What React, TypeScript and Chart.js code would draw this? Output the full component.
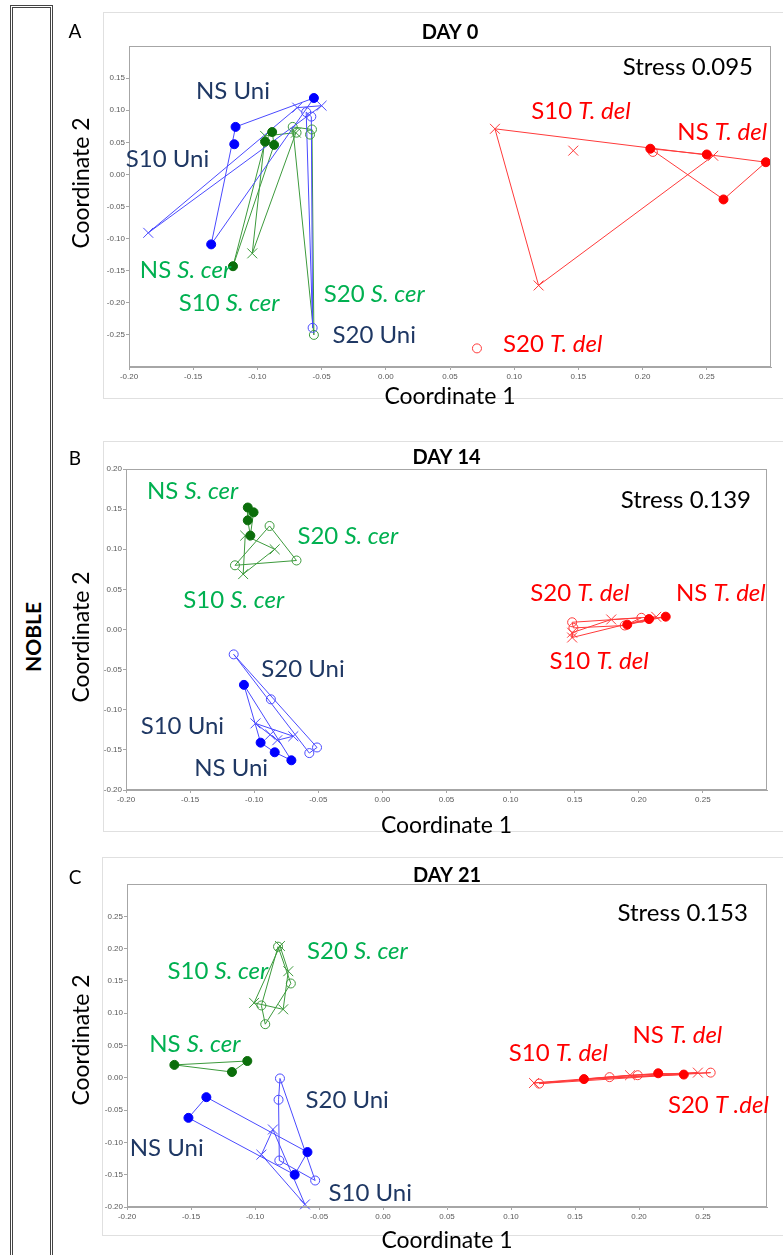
import React, { useEffect, useRef } from "react";
import { Chart, registerables } from "chart.js";
Chart.register(...registerables);

type Pt = [number, number];

// ---------- DAY 0 ----------
const d0_NS_Uni: Pt[] = [[-0.056, 0.119], [-0.117, 0.074], [-0.118, 0.047], [-0.136, -0.109]];
const d0_S10_Uni: Pt[] = [[-0.185, -0.091], [-0.069, 0.104], [-0.050, 0.107]];
const d0_S20_Uni: Pt[] = [[-0.058, 0.090], [-0.062, 0.097], [-0.057, -0.239]];
const d0_NS_Scer: Pt[] = [[-0.0885, 0.066], [-0.094, 0.051], [-0.087, 0.046], [-0.119, -0.143]];
const d0_S10_Scer: Pt[] = [[-0.104, -0.123], [-0.094, 0.060], [-0.070, 0.065]];
const d0_S20_Scer: Pt[] = [[-0.0725, 0.074], [-0.0695, 0.065], [-0.0575, 0.070], [-0.059, 0.062], [-0.056, -0.250]];
const d0_NS_Tdel: Pt[] = [[0.206, 0.040], [0.250, 0.031], [0.296, 0.019], [0.263, -0.039]];
const d0_S10_Tdel: Pt[] = [[0.085, 0.071], [0.146, 0.037], [0.255, 0.029], [0.119, -0.173]];
const d0_S20_Tdel: Pt[] = [[0.208, 0.035], [0.071, -0.271]];

// ---------- DAY 14 ----------
const d14_NS_Scer: Pt[] = [[-0.105, 0.152], [-0.1005, 0.146], [-0.105, 0.136], [-0.103, 0.117]];
const d14_S10_Scer: Pt[] = [[-0.107, 0.117], [-0.084, 0.100], [-0.1086, 0.069]];
const d14_S20_Scer: Pt[] = [[-0.088, 0.129], [-0.067, 0.086], [-0.115, 0.080]];
const d14_NS_Uni: Pt[] = [[-0.108, -0.069], [-0.095, -0.141], [-0.084, -0.153], [-0.071, -0.163]];
const d14_S10_Uni: Pt[] = [[-0.099, -0.117], [-0.0875, -0.131], [-0.0695, -0.133], [-0.082, -0.138]];
const d14_S20_Uni: Pt[] = [[-0.116, -0.031], [-0.087, -0.087], [-0.051, -0.147], [-0.057, -0.154]];
const d14_NS_Tdel: Pt[] = [[0.221, 0.016], [0.208, 0.013], [0.191, 0.006]];
const d14_S10_Tdel: Pt[] = [[0.148, -0.010], [0.1785, 0.0125], [0.2136, 0.0158], [0.148, -0.004]];
const d14_S20_Tdel: Pt[] = [[0.148, 0.009], [0.202, 0.0146], [0.189, 0.005], [0.149, 0.002]];

// ---------- DAY 21 ----------
const d21_S20_Scer: Pt[] = [[-0.082, 0.203], [-0.072, 0.146], [-0.095, 0.112], [-0.092, 0.083]];
const d21_S10_Scer: Pt[] = [[-0.0805, 0.204], [-0.074, 0.165], [-0.078, 0.106], [-0.1007, 0.116]];
const d21_NS_Scer: Pt[] = [[-0.163, 0.020], [-0.118, 0.009], [-0.106, 0.026]];
const d21_S20_Uni: Pt[] = [[-0.0805, -0.001], [-0.0816, -0.034], [-0.081, -0.128], [-0.053, -0.159]];
const d21_NS_Uni: Pt[] = [[-0.138, -0.030], [-0.152, -0.062], [-0.059, -0.115], [-0.069, -0.150]];
const d21_S10_Uni: Pt[] = [[-0.086, -0.080], [-0.095, -0.119], [-0.061, -0.196]];
const d21_NS_Tdel: Pt[] = [[0.157, -0.002], [0.215, 0.007], [0.235, 0.005]];
const d21_S10_Tdel: Pt[] = [[0.118, -0.008], [0.193, 0.004], [0.246, 0.008]];
const d21_S20_Tdel: Pt[] = [[0.122, -0.009], [0.177, 0.001], [0.199, 0.004], [0.256, 0.008]];

// ---------- tick labels ----------
const xTicks = [-0.2, -0.15, -0.1, -0.05, 0, 0.05, 0.1, 0.15, 0.2, 0.25];
const yTicksA = [0.15, 0.1, 0.05, 0, -0.05, -0.1, -0.15, -0.2, -0.25];
const yTicksB = [0.2, 0.15, 0.1, 0.05, 0, -0.05, -0.1, -0.15, -0.2];
const yTicksC = [0.25, 0.2, 0.15, 0.1, 0.05, 0, -0.05, -0.1, -0.15, -0.2];

// ---------- group labels: [x, y, normal part, italic part, kind] ----------
type Lab = [number, number, string, string, string];
const labelsA: Lab[] = [
  [-0.119, 0.129, "NS Uni", "", "uni"],
  [-0.170, 0.024, "S10 Uni", "", "uni"],
  [-0.156, -0.150, "NS ", "S. cer", "scer"],
  [-0.122, -0.200, "S10 ", "S. cer", "scer"],
  [-0.009, -0.187, "S20 ", "S. cer", "scer"],
  [-0.009, -0.250, "S20 Uni", "", "uni"],
  [0.152, 0.0985, "S10 ", "T. del", "tdel"],
  [0.262, 0.065, "NS ", "T. del", "tdel"],
  [0.130, -0.265, "S20 ", "T. del", "tdel"],
];
const labelsB: Lab[] = [
  [-0.148, 0.1726, "NS ", "S. cer", "scer"],
  [-0.027, 0.1156, "S20 ", "S. cer", "scer"],
  [-0.116, 0.0366, "S10 ", "S. cer", "scer"],
  [-0.062, -0.049, "S20 Uni", "", "uni"],
  [-0.156, -0.120, "S10 Uni", "", "uni"],
  [-0.118, -0.1726, "NS Uni", "", "uni"],
  [0.154, 0.045, "S20 ", "T. del", "tdel"],
  [0.264, 0.045, "NS ", "T. del", "tdel"],
  [0.169, -0.040, "S10 ", "T. del", "tdel"],
];
const labelsC: Lab[] = [
  [-0.020, 0.196, "S20 ", "S. cer", "scer"],
  [-0.129, 0.165, "S10 ", "S. cer", "scer"],
  [-0.147, 0.052, "NS ", "S. cer", "scer"],
  [-0.028, -0.035, "S20 Uni", "", "uni"],
  [-0.169, -0.109, "NS Uni", "", "uni"],
  [-0.010, -0.178, "S10 Uni", "", "uni"],
  [0.137, 0.038, "S10 ", "T. del", "tdel"],
  [0.230, 0.066, "NS ", "T. del", "tdel"],
  [0.262, -0.043, "S20 ", "T .del", "tdel"],
];

const FONT = "Lato, 'Open Sans', sans-serif";
const LABEL_PX = 24;
const COLORS: Record<string, { line: string; fill: string; open: string; label: string; nsFill: string }> = {
  uni: { line: "#4a4aff", fill: "#0000ff", open: "#4a4aff", label: "#1f3864", nsFill: "#0000ff" },
  scer: { line: "#3c9a3c", fill: "#0b6e0b", open: "#3c9a3c", label: "#00b050", nsFill: "#0b6e0b" },
  tdel: { line: "#ff3a3a", fill: "#ff0000", open: "#ff3a3a", label: "#ff0000", nsFill: "#ff0000" },
};

type Group = { pts: Pt[]; kind: string; marker: "filled" | "open" | "cross"; hull?: boolean };

function convexHull(points: Pt[]): Pt[] {
  const p = points.slice().sort((a, b) => (a[0] - b[0]) || (a[1] - b[1]));
  if (p.length < 3) return p;
  const cross = (o: Pt, a: Pt, b: Pt) => (a[0] - o[0]) * (b[1] - o[1]) - (a[1] - o[1]) * (b[0] - o[0]);
  const lower: Pt[] = [];
  for (const q of p) {
    while (lower.length >= 2 && cross(lower[lower.length - 2], lower[lower.length - 1], q) <= 0) lower.pop();
    lower.push(q);
  }
  const upper: Pt[] = [];
  for (let i = p.length - 1; i >= 0; i--) {
    const q = p[i];
    while (upper.length >= 2 && cross(upper[upper.length - 2], upper[upper.length - 1], q) <= 0) upper.pop();
    upper.push(q);
  }
  upper.pop();
  lower.pop();
  return lower.concat(upper);
}

function buildDatasets(groups: Group[]) {
  const ds: any[] = [];
  for (const g of groups) {
    const c = COLORS[g.kind];
    if (g.hull !== false) {
      const h = convexHull(g.pts);
      const loop = h.concat([h[0]]).map(([x, y]) => ({ x, y }));
      ds.push({
        data: loop, showLine: true, borderColor: c.line, borderWidth: 1, pointRadius: 0,
        fill: false, order: 2, clip: false,
      });
    }
    const pts = g.pts.map(([x, y]) => ({ x, y }));
    if (g.marker === "filled") {
      ds.push({ data: pts, showLine: false, pointStyle: "circle", pointRadius: 4.5, pointBackgroundColor: c.nsFill, pointBorderColor: c.nsFill, pointBorderWidth: 1, order: 0, clip: false });
    } else if (g.marker === "open") {
      ds.push({ data: pts, showLine: false, pointStyle: "circle", pointRadius: 4.5, pointBackgroundColor: "rgba(0,0,0,0)", pointBorderColor: c.open, pointBorderWidth: 1, order: 1, clip: false });
    } else {
      ds.push({ data: pts, showLine: false, pointStyle: "crossRot", pointRadius: 7, pointBorderColor: c.open, pointBorderWidth: 1, order: 1, clip: false });
    }
  }
  return ds;
}

const groupsA: Group[] = [
  { pts: d0_NS_Uni, kind: "uni", marker: "filled" },
  { pts: d0_S10_Uni, kind: "uni", marker: "cross" },
  { pts: d0_S20_Uni, kind: "uni", marker: "open" },
  { pts: d0_NS_Scer, kind: "scer", marker: "filled" },
  { pts: d0_S10_Scer, kind: "scer", marker: "cross" },
  { pts: d0_S20_Scer, kind: "scer", marker: "open" },
  { pts: d0_NS_Tdel, kind: "tdel", marker: "filled" },
  { pts: d0_S10_Tdel, kind: "tdel", marker: "cross" },
  { pts: d0_S20_Tdel, kind: "tdel", marker: "open", hull: false },
];
const groupsB: Group[] = [
  { pts: d14_NS_Scer, kind: "scer", marker: "filled" },
  { pts: d14_S10_Scer, kind: "scer", marker: "cross" },
  { pts: d14_S20_Scer, kind: "scer", marker: "open" },
  { pts: d14_NS_Uni, kind: "uni", marker: "filled" },
  { pts: d14_S10_Uni, kind: "uni", marker: "cross" },
  { pts: d14_S20_Uni, kind: "uni", marker: "open" },
  { pts: d14_NS_Tdel, kind: "tdel", marker: "filled" },
  { pts: d14_S10_Tdel, kind: "tdel", marker: "cross" },
  { pts: d14_S20_Tdel, kind: "tdel", marker: "open" },
];
const groupsC: Group[] = [
  { pts: d21_S20_Scer, kind: "scer", marker: "open" },
  { pts: d21_S10_Scer, kind: "scer", marker: "cross" },
  { pts: d21_NS_Scer, kind: "scer", marker: "filled" },
  { pts: d21_S20_Uni, kind: "uni", marker: "open" },
  { pts: d21_NS_Uni, kind: "uni", marker: "filled" },
  { pts: d21_S10_Uni, kind: "uni", marker: "cross" },
  { pts: d21_NS_Tdel, kind: "tdel", marker: "filled" },
  { pts: d21_S10_Tdel, kind: "tdel", marker: "cross" },
  { pts: d21_S20_Tdel, kind: "tdel", marker: "open" },
];

type Panel = {
  top: number; height: number; padT: number; padR: number; yW: number; xH: number;
  yMin: number; yMax: number; yTicks: number[]; groups: Group[]; labels: Lab[];
  letter: string; title: string; stress: string; stressXY: [number, number];
  frame: [number, number, number, number]; letterY: number; titleY: number; c2Y: number; c1Y: number;
};

const panels: Panel[] = [
  {
    top: 0, height: 415, padT: 46, padR: 12, yW: 74, xH: 48, yMin: -0.3, yMax: 0.2, yTicks: yTicksA,
    groups: groupsA, labels: labelsA, letter: "A", title: "DAY 0", stress: "Stress 0.095", stressXY: [0.286, 0.167],
    frame: [48, 12, 700, 386], letterY: 32, titleY: 33, c2Y: 183, c1Y: 397,
  },
  {
    top: 415, height: 425, padT: 54, padR: 16, yW: 71, xH: 50, yMin: -0.2, yMax: 0.2, yTicks: yTicksB,
    groups: groupsB, labels: labelsB, letter: "B", title: "DAY 14", stress: "Stress 0.139", stressXY: [0.2875, 0.161],
    frame: [48, 26, 700, 390], letterY: 44, titleY: 43, c2Y: 222, c1Y: 411,
  },
  {
    top: 840, height: 415, padT: 44, padR: 16, yW: 72, xH: 48, yMin: -0.2, yMax: 0.3, yTicks: yTicksC,
    groups: groupsC, labels: labelsC, letter: "C", title: "DAY 21", stress: "Stress 0.153", stressXY: [0.285, 0.255],
    frame: [47, 17, 700, 378], letterY: 38, titleY: 36, c2Y: 200, c1Y: 401,
  },
];

const decorPlugin = {
  id: "panelDecor",
  beforeDraw(chart: any, _a: any, o: any) {
    const ctx = chart.ctx;
    ctx.save();
    ctx.strokeStyle = "#e0e0e0";
    ctx.lineWidth = 1;
    const f = o.frame;
    ctx.strokeRect(f[0] + 0.5, f[1] + 0.5, f[2], f[3]);
    ctx.restore();
  },
  afterDraw(chart: any, _a: any, o: any) {
    const { ctx, chartArea: ca, scales } = chart;
    ctx.save();
    ctx.strokeStyle = "#a6a6a6";
    ctx.lineWidth = 1;
    ctx.strokeRect(Math.round(ca.left) + 0.5, Math.round(ca.top) + 0.5, Math.round(ca.width) - 1, Math.round(ca.height) - 1);
    ctx.textBaseline = "middle";
    // letter
    ctx.fillStyle = "#000";
    ctx.font = `19px ${FONT}`;
    ctx.textAlign = "center";
    ctx.fillText(o.letter, 20, o.letterY);
    // title
    ctx.font = `bold 20px ${FONT}`;
    ctx.fillText(o.title, (ca.left + ca.right) / 2, o.titleY);
    // axis titles
    ctx.font = `23px ${FONT}`;
    ctx.fillText("Coordinate 1", (ca.left + ca.right) / 2, o.c1Y);
    ctx.save();
    ctx.translate(27, o.c2Y);
    ctx.rotate(-Math.PI / 2);
    ctx.fillText("Coordinate 2", 0, 0);
    ctx.restore();
    // stress
    ctx.textAlign = "right";
    ctx.font = `${LABEL_PX}px ${FONT}`;
    ctx.fillText(o.stress, scales.x.getPixelForValue(o.stressXY[0]), scales.y.getPixelForValue(o.stressXY[1]));
    // group labels
    ctx.textAlign = "left";
    for (const [x, y, pre, ital, kind] of o.labels as Lab[]) {
      const px = scales.x.getPixelForValue(x);
      const py = scales.y.getPixelForValue(y);
      ctx.font = `${LABEL_PX}px ${FONT}`;
      const w1 = ctx.measureText(pre).width;
      ctx.font = `italic ${LABEL_PX}px ${FONT}`;
      const w2 = ital ? ctx.measureText(ital).width : 0;
      const sx = px - (w1 + w2) / 2;
      ctx.fillStyle = COLORS[kind].label;
      ctx.font = `${LABEL_PX}px ${FONT}`;
      ctx.fillText(pre, sx, py);
      if (ital) {
        ctx.font = `italic ${LABEL_PX}px ${FONT}`;
        ctx.fillText(ital, sx + w1, py);
      }
    }
    ctx.restore();
  },
};

const fmt = (v: number) => (Math.abs(v) < 1e-9 ? "0.00" : v.toFixed(2));

function PanelChart({ p }: { p: Panel }) {
  const ref = useRef<HTMLCanvasElement | null>(null);
  useEffect(() => {
    if (!ref.current) return;
    const tickFont = { size: 8, family: "'Liberation Sans', sans-serif" };
    const chart = new Chart(ref.current, {
      type: "scatter",
      data: { datasets: buildDatasets(p.groups) },
      options: {
        responsive: false,
        animation: false,
        devicePixelRatio: 1,
        layout: { padding: { left: 0, right: p.padR, top: p.padT, bottom: 0 } },
        plugins: {
          legend: { display: false },
          tooltip: { enabled: false },
          panelDecor: {
            frame: p.frame, letter: p.letter, title: p.title, stress: p.stress, stressXY: p.stressXY,
            labels: p.labels, letterY: p.letterY, titleY: p.titleY, c2Y: p.c2Y, c1Y: p.c1Y,
          },
        } as any,
        scales: {
          x: {
            type: "linear", min: -0.2, max: 0.3,
            afterBuildTicks: (s: any) => { s.ticks = xTicks.map((v) => ({ value: v })); },
            afterFit: (s: any) => { s.height = p.xH; },
            ticks: { font: tickFont, color: "#595959", padding: 2, maxRotation: 0, autoSkip: false, callback: (v: any) => fmt(Number(v)) },
            grid: { display: true, drawOnChartArea: false, drawTicks: true, tickLength: 3, color: "#a6a6a6" },
            border: { display: true, color: "#a6a6a6" },
          },
          y: {
            type: "linear", min: p.yMin, max: p.yMax,
            afterBuildTicks: (s: any) => { s.ticks = p.yTicks.map((v) => ({ value: v })); },
            afterFit: (s: any) => { s.width = p.yW; },
            ticks: { font: tickFont, color: "#595959", padding: 1, autoSkip: false, callback: (v: any) => fmt(Number(v)) },
            grid: { display: true, drawOnChartArea: false, drawTicks: true, tickLength: 3, color: "#a6a6a6" },
            border: { display: true, color: "#a6a6a6" },
          },
        },
      } as any,
      plugins: [decorPlugin as any],
    });
    return () => chart.destroy();
  }, [p]);
  return (
    <canvas
      ref={ref}
      width={728}
      height={p.height}
      style={{ position: "absolute", left: 55, top: p.top, width: 728, height: p.height }}
    />
  );
}

export default function App() {
  return (
    <div style={{ position: "absolute", left: 0, top: 0, width: 783, height: 1255, overflow: "hidden", background: "#fff" }}>
      <div
        style={{
          position: "absolute", left: 10, top: 5, width: 37, height: 1270,
          border: "3px double #444", boxSizing: "content-box",
        }}
      />
      <div
        style={{
          position: "absolute", left: 32, top: 637, transform: "translate(-50%, -50%) rotate(-90deg)",
          fontFamily: FONT, fontWeight: "bold", fontSize: 21, whiteSpace: "nowrap", color: "#000",
        }}
      >
        NOBLE
      </div>
      {panels.map((p, i) => (
        <PanelChart key={i} p={p} />
      ))}
    </div>
  );
}
